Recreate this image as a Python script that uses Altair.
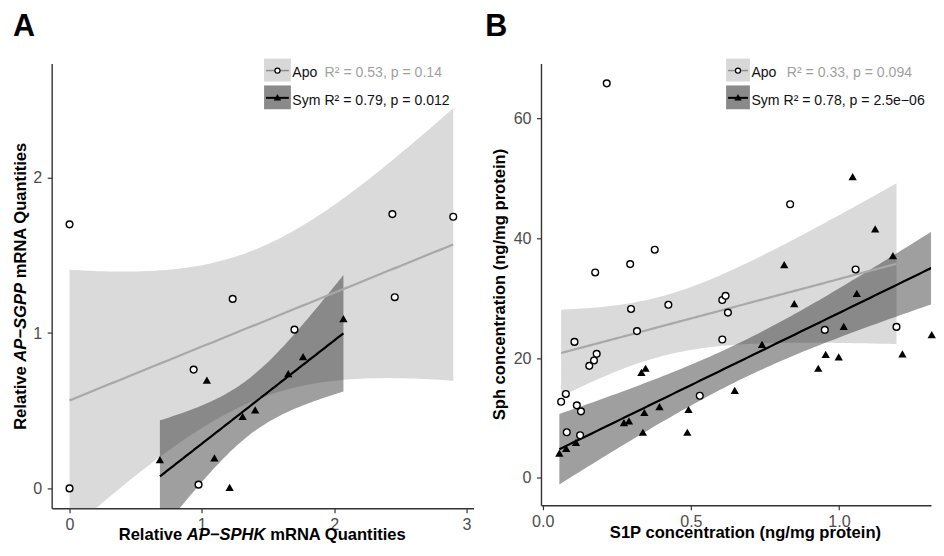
import altair as alt
import numpy as np
import pandas as pd

# ---------------- data ----------------
# Panel A: Relative AP-SPHK (x) vs AP-SGPP (y) mRNA quantities
a_apo_x = [0.0, 2.44, 2.90, 1.233, 2.458, 1.70, 0.938, 0.975, 0.0]
a_apo_y = [1.70, 1.766, 1.749, 1.22, 1.231, 1.022, 0.765, 0.024, 0.0]
a_sym_x = [2.07, 1.765, 1.653, 1.038, 1.403, 1.308, 0.683, 1.095, 1.21]
a_sym_y = [1.093, 0.848, 0.739, 0.697, 0.505, 0.463, 0.185, 0.196, 0.006]

# Panel B: S1P (x) vs Sph (y) concentration
b_apo_x = [0.216, 0.835, 0.378, 0.295, 0.177, 1.056, 0.298, 0.424, 0.606,
           0.617, 0.625, 0.318, 0.107, 0.606, 0.952, 1.194, 0.182, 0.173,
           0.157, 0.078, 0.062, 0.115, 0.129, 0.530, 0.081, 0.126]
b_apo_y = [65.9, 45.7, 38.1, 35.7, 34.3, 34.8, 28.2, 28.9, 29.7,
           30.4, 27.6, 24.5, 22.7, 23.1, 24.7, 25.2, 20.7, 19.6,
           18.7, 14.0, 12.7, 12.1, 11.1, 13.7, 7.6, 7.1]
b_sym_x = [1.046, 1.122, 1.182, 0.815, 1.060, 0.849, 1.016, 1.313, 0.740,
           0.955, 0.999, 1.214, 0.930, 0.347, 0.333, 0.648, 0.394, 0.343,
           0.492, 0.274, 0.291, 0.338, 0.488, 0.112, 0.079, 0.056]
b_sym_y = [50.3, 41.6, 37.1, 35.6, 30.8, 29.1, 25.3, 23.9, 22.3,
           20.6, 20.2, 20.7, 18.3, 18.3, 17.6, 14.6, 11.9, 10.9,
           11.4, 9.2, 9.5, 7.6, 7.6, 5.9, 4.9, 4.1]

a_legend = ["Apo", "R\u00b2 = 0.53, p = 0.14", "Sym R\u00b2 = 0.79, p = 0.012"]
b_legend = ["Apo", "R\u00b2 = 0.33, p = 0.094", "Sym R\u00b2 = 0.78, p = 2.5e\u221206"]

a_xticks = [0, 1, 2, 3]
a_yticks = [0, 1, 2]
b_xticks = [0.0, 0.5, 1.0]
b_yticks = [0, 20, 40, 60]

# 97.5% t quantiles by degrees of freedom
T975 = {7: 2.3646, 24: 2.0639}

FONT = "Liberation Sans"
TITLE_SIZE = 16.7
# Arial/Liberation Sans Bold advance widths (per 1000 em)
BW = {"R": 722, "e": 556, "l": 278, "a": 556, "t": 333, "i": 278, "v": 556,
      " ": 278, "A": 722, "P": 667, "\u2212": 584, "S": 667, "G": 778,
      "H": 722, "K": 722, "m": 889, "N": 722, "Q": 778, "u": 611,
      "n": 611, "s": 556, "p": 611, "h": 611, "c": 556, "o": 611,
      "r": 389, "(": 333, ")": 333, "/": 278, "g": 611, "1": 556}


def tw(s):
    return sum(BW.get(c, 600) for c in s) / 1000.0 * TITLE_SIZE


def fit(xs, ys, n_grid=80):
    x = np.asarray(xs, float)
    y = np.asarray(ys, float)
    n = len(x)
    slope, icpt = np.polyfit(x, y, 1)
    resid = y - (icpt + slope * x)
    s = np.sqrt(np.sum(resid ** 2) / (n - 2))
    sxx = np.sum((x - x.mean()) ** 2)
    g = np.linspace(x.min(), x.max(), n_grid)
    f = icpt + slope * g
    se = s * np.sqrt(1.0 / n + (g - x.mean()) ** 2 / sxx)
    t = T975[n - 2]
    return pd.DataFrame({"x": g, "fit": f, "lo": f - t * se, "hi": f + t * se})


ONE = pd.DataFrame({"k": [0]})


def txt(s, x, y, size, color="black", weight="normal", style="normal",
        align="left", angle=0, baseline="alphabetic"):
    kw = dict(font=FONT, fontSize=size, color=color, fontWeight=weight,
              fontStyle=style, align=align, baseline=baseline)
    if angle:
        kw["angle"] = angle
    return alt.Chart(ONE).mark_text(**kw).encode(
        x=alt.value(x), y=alt.value(y), text=alt.value(s))


def rect(x1, x2, y1, y2, color):
    return alt.Chart(ONE).mark_rect(color=color).encode(
        x=alt.value(x1), x2=alt.value(x2), y=alt.value(y1), y2=alt.value(y2))


def rule(x1, x2, y, color, w):
    return alt.Chart(ONE).mark_rule(color=color, strokeWidth=w).encode(
        x=alt.value(x1), x2=alt.value(x2), y=alt.value(y))


def sym(x, y, shape, size, fill, stroke, sw):
    return alt.Chart(ONE).mark_point(shape=shape, size=size, filled=True,
                                     fill=fill, stroke=stroke, strokeWidth=sw,
                                     opacity=1).encode(
        x=alt.value(x), y=alt.value(y))


def panel(apo_x, apo_y, sym_x, sym_y, xdom, ydom, xt, yt, xfmt, w, h,
          letter, letter_x, ytitle_parts, ytitle_x, xtitle_parts, xtitle_cx,
          xtitle_y, legend, box_x, gray_x):
    xs = alt.Scale(domain=xdom, nice=False, zero=False)
    ys = alt.Scale(domain=ydom, nice=False, zero=False)
    xax = alt.Axis(values=xt, format=xfmt, title=None, labelFlush=False,
                   labelOverlap=False)
    yax = alt.Axis(values=yt, title=None, labelOverlap=False)

    def X():
        return alt.X("x:Q", scale=xs, axis=xax)

    def Y(f):
        return alt.Y(f + ":Q", scale=ys, axis=yax)

    fa = fit(apo_x, apo_y)
    fs = fit(sym_x, sym_y)
    layers = [
        alt.Chart(fa).mark_area(clip=True, color="#a3a3a3", opacity=0.4)
        .encode(x=X(), y=Y("lo"), y2="hi:Q"),
        alt.Chart(fs).mark_area(clip=True, color="#1a1a1a", opacity=0.42)
        .encode(x=X(), y=Y("lo"), y2="hi:Q"),
        alt.Chart(fa).mark_line(clip=True, color="#a8a8a8", strokeWidth=2.2)
        .encode(x=X(), y=Y("fit")),
        alt.Chart(fs).mark_line(clip=True, color="black", strokeWidth=2.2)
        .encode(x=X(), y=Y("fit")),
        alt.Chart(pd.DataFrame({"x": apo_x, "y": apo_y}))
        .mark_point(shape="circle", filled=True, fill="white", stroke="black",
                    strokeWidth=1.4, size=46, opacity=1)
        .encode(x=X(), y=Y("y")),
        alt.Chart(pd.DataFrame({"x": sym_x, "y": sym_y}))
        .mark_point(shape="triangle-up", filled=True, color="black",
                    size=70, opacity=1)
        .encode(x=X(), y=Y("y")),
    ]
    # panel letter
    layers.append(txt(letter, letter_x, -28, 30.7, weight="bold"))
    # y title (rotated, possibly with italic part)
    total = sum(tw(p) for p, _ in ytitle_parts) + tw(" ") * (len(ytitle_parts) - 1)
    off = 0.0
    yc = h / 2.0
    for p, st in ytitle_parts:
        layers.append(txt(p, ytitle_x, yc + total / 2.0 - off, TITLE_SIZE,
                          weight="bold", style=st, angle=270))
        off += tw(p) + tw(" ")
    # x title
    if xtitle_parts is not None:
        total = sum(tw(p) for p, _ in xtitle_parts) + tw(" ") * (len(xtitle_parts) - 1)
        off = 0.0
        for p, st in xtitle_parts:
            layers.append(txt(p, xtitle_cx - total / 2.0 + off, xtitle_y,
                              TITLE_SIZE, weight="bold", style=st))
            off += tw(p) + tw(" ")
    # legend
    bx1, bx2 = box_x
    layers += [
        rect(bx1, bx2, -5, 18, "#d8d8d8"),
        rect(bx1, bx2, 22, 46, "#8a8a8a"),
        rule(bx1 + 2, bx2 - 2, 7, "#8c8c8c", 1.5),
        rule(bx1 + 2, bx2 - 2, 34.5, "black", 2),
        sym((bx1 + bx2) / 2.0, 7, "circle", 26, "white", "black", 1.3),
        sym((bx1 + bx2) / 2.0, 34, "triangle-up", 45, "black", "black", 0.5),
        txt(legend[0], bx2 + 1.5, 13, 14.2, color="#111111"),
        txt(legend[1], gray_x, 13, 14.2, color="#9f9f9f"),
        txt(legend[2], bx2 + 1.5, 42, 14.2, color="#111111"),
    ]
    return alt.layer(*layers).properties(width=w, height=h)


A_W, A_H = 425, 448
B_W, B_H = 393, 445

pA = panel(a_apo_x, a_apo_y, a_sym_x, a_sym_y,
           [-0.135, 3.053], [-0.128, 2.735], a_xticks, a_yticks, "d",
           A_W, A_H, "A", -39,
           [("Relative", "normal"), ("AP\u2212SGPP", "italic"),
            ("mRNA Quantities", "normal")], -26,
           [("Relative", "normal"), ("AP\u2212SPHK", "italic"),
            ("mRNA Quantities", "normal")], A_W / 2.0, A_H + 31.5,
           a_legend, (214, 241), 275)

pB_base = panel(b_apo_x, b_apo_y, b_sym_x, b_sym_y,
                [-0.006, 1.3106], [-4.6, 69.2], b_xticks, b_yticks, ".1f",
                B_W, B_H, "B", -56.2,
                [("Sph concentration (ng/mg protein)", "normal")], -36,
                None, 0, 0,
                b_legend, (186.5, 210.5), 247.7)

pB = alt.layer(
    pB_base,
    txt("S1P concentration (ng/mg protein)", 206, B_H + 33, TITLE_SIZE,
        weight="bold", align="center"),
)

chart = alt.hconcat(pA, pB, spacing=11).properties(
    padding={"left": 4, "top": 1, "right": 0, "bottom": 0}
).configure_view(stroke=None).configure_axis(
    domainColor="#333333", domainWidth=1.4, tickColor="#333333",
    tickWidth=1.2, tickSize=4.5, labelColor="#4d4d4d", labelFont=FONT,
    labelFontSize=16.2, grid=False
).configure_axisX(labelPadding=4).configure_axisY(labelPadding=5.5)

chart.save("out.html", embed_options={"renderer": "svg", "actions": False})
